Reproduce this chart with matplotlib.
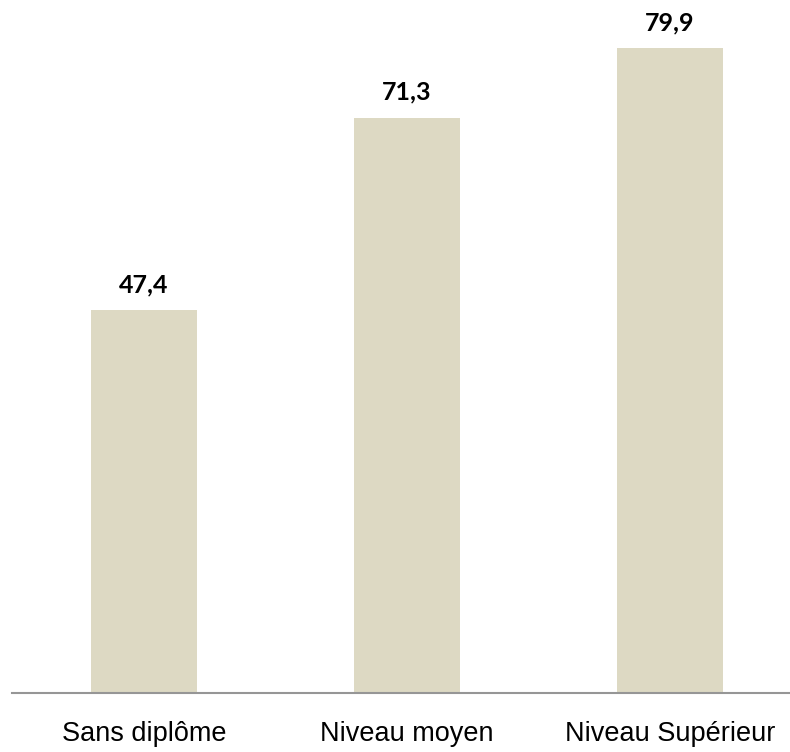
import matplotlib
matplotlib.use("Agg")
import matplotlib.pyplot as plt

categories = ["Sans diplôme", "Niveau moyen", "Niveau Supérieur"]
values = [47.4, 71.3, 79.9]
value_labels = ["47,4", "71,3", "79,9"]

fig = plt.figure(figsize=(7.9, 7.52), dpi=100)
W, H = 790, 752
ax = fig.add_axes([12 / W, 1 - 693 / H, (790 - 12) / W, 693 / H])

x = list(range(len(categories)))
ax.bar(x, values, width=0.403, color="#DDD9C3", zorder=2)

ax.set_xlim(-0.502, 2.456)
ax.set_ylim(0, 85.87)

for xi, v, lab in zip(x, values, value_labels):
    ax.annotate(lab, (xi, v), xytext=(0, 13), textcoords="offset points",
                ha="center", va="baseline", fontsize=18, fontweight="bold",
                family=["Lato", "DejaVu Sans"], color="black")

for s in ["top", "right", "left"]:
    ax.spines[s].set_visible(False)
ax.spines["bottom"].set_color("#969696")
ax.spines["bottom"].set_linewidth(1.5)
ax.set_yticks([])
ax.set_xticks(x)
ax.set_xticklabels(categories, fontsize=19.5, family=["Liberation Sans", "DejaVu Sans"])
ax.tick_params(axis="x", length=0, pad=20)

fig.savefig("out.png", dpi=100)
